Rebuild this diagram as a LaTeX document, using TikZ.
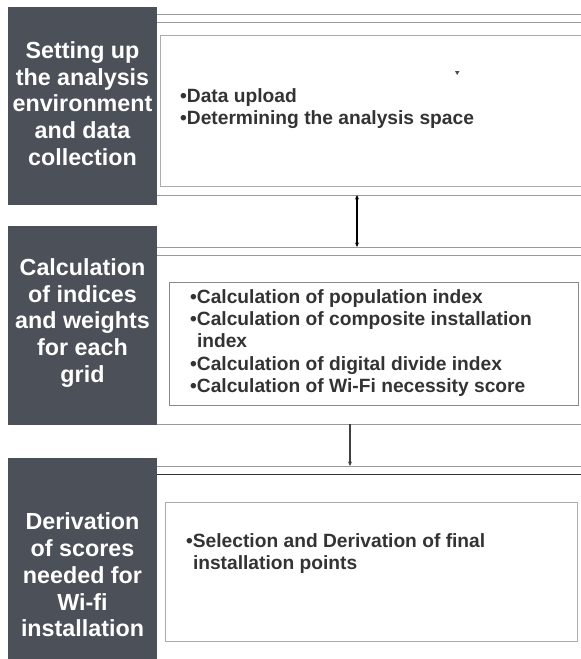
\documentclass[tikz,border=0pt]{standalone}
\usepackage{fontspec}
\setmainfont{Liberation Sans}
\usetikzlibrary{arrows.meta}
\definecolor{darkfill}{HTML}{4B5059}
\definecolor{txt}{HTML}{333333}
\definecolor{rulegray}{HTML}{9A9A9A}
\definecolor{panelA}{HTML}{ABABAB}
\definecolor{panelB}{HTML}{8A8A8A}
\begin{document}
\begin{tikzpicture}[x=1pt,y=-1pt,
  darkbox/.style={fill=darkfill, draw=none, minimum width=149pt, inner sep=0, anchor=north west},
  steplabel/.style={text=white, font=\bfseries\fontsize{23.3}{26.8}\selectfont, align=center, inner sep=0},
  panel/.style={draw=#1, line width=1.1pt, fill=white, anchor=north west, inner sep=0},
  bullets/.style={text=txt, font=\bfseries\fontsize{19.2}{22.3}\selectfont, align=left, anchor=north west, inner sep=0},
  rulel/.style={draw=rulegray, line width=1pt},
  tipS/.tip={Stealth[length=4.5pt,width=4pt]},
  conn/.style={line width=1.6pt}]
\useasboundingbox[fill=white] (0,0) rectangle (581,659);

% ---- section 1
\node[darkbox, minimum height=198pt] (d1) at (8,7) {};
\node[steplabel] (l1) at (82.5,103.5) {Setting up\\the analysis\\environment\\and data\\collection};
\draw[rulel] (157,14) -- (581,14);
\draw[rulel] (157,22) -- (581,22);
\draw[rulel] (157,195) -- (581,195);
\node[panel=panelA, minimum width=426pt, minimum height=151pt] (p1) at (160,35) {};
\node[bullets] (b1) at (180,88) {•Data upload\\•Determining the analysis space};
\fill[black!70] (455,71) -- (459.5,71) -- (457.2,75) -- cycle;

% ---- section 2
\node[darkbox, minimum height=199pt] (d2) at (8,226) {};
\node[steplabel] (l2) at (82.5,323) {Calculation\\of indices\\and weights\\for each\\grid};
\draw[rulel] (157,247) -- (581,247);
\draw[rulel] (157,255) -- (581,255);
\draw[rulel] (157,424) -- (581,424);
\node[panel=panelB, minimum width=409pt, minimum height=123pt] (p2) at (169,282) {};
\node[bullets] (b2) at (190,289) {•Calculation of population index\\•Calculation of composite installation\\\hspace*{6.8pt}index\\•Calculation of digital divide index\\•Calculation of Wi-Fi necessity score};

% ---- section 3
\node[darkbox, minimum height=201pt] (d3) at (8,458) {};
\node[steplabel] (l3) at (82.5,575) {Derivation\\of scores\\needed for\\Wi-fi\\installation};
\draw[rulel] (157,466) -- (581,466);
\draw[draw=black!80, line width=1pt] (157,474) -- (581,474);
\node[panel=panelA, minimum width=412pt, minimum height=139pt] (p3) at (165,502) {};
\node[bullets] (b3) at (186,533) {•Selection and Derivation of final\\\hspace*{6.8pt}installation points};

% ---- connectors
\coordinate (a1t) at (357,195);
\coordinate (a1b) at (357,247);
\draw[conn, black, tipS-tipS] (a1t) -- (a1b);
\coordinate (a2t) at (350,424);
\coordinate (a2b) at (350,466);
\draw[conn, black!75, -tipS] (a2t) -- (a2b);
\end{tikzpicture}
\end{document}
